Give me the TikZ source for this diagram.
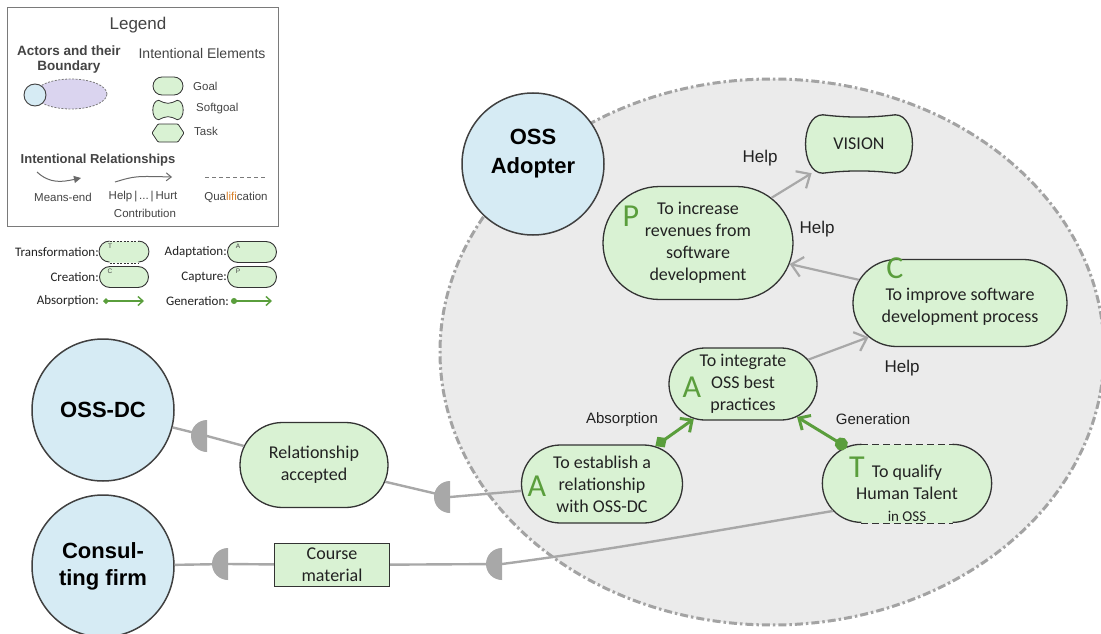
\documentclass[tikz,border=0pt]{standalone}
\usepackage{fontspec}
\setmainfont{Carlito}
\newfontfamily\arialf{Liberation Sans}
\usetikzlibrary{arrows.meta,shapes.misc,calc}
\pgfdeclarelayer{back}
\pgfdeclarelayer{shapes}
\pgfsetlayers{back,shapes,main}
\definecolor{actorfill}{HTML}{D6EBF4}
\definecolor{actorline}{HTML}{404040}
\definecolor{goalfill}{HTML}{D9F2D3}
\definecolor{bndfill}{HTML}{EBEBEB}
\definecolor{bndline}{HTML}{A3A3A3}
\definecolor{linkgray}{HTML}{A8A8A8}
\definecolor{igreen}{HTML}{5A9E3C}
\definecolor{edge}{HTML}{333333}
\definecolor{txt}{HTML}{222222}
\definecolor{legtext}{HTML}{444444}
\definecolor{legline}{HTML}{7A7A7A}
\definecolor{lav}{HTML}{DAD4EF}
\definecolor{qorange}{HTML}{D9822B}
\newcommand\fs[2]{\fontsize{#1}{#2}\selectfont}
% softgoal outline: node, corner inset, dip, bulge
\newcommand\sgpath[4]{($(#1.north west)+(#2,0)$) .. controls ($(#1.north west)+(3*#2,#3)$) and ($(#1.north east)+(-3*#2,#3)$) .. ($(#1.north east)+(-#2,0)$)
 .. controls ($(#1.north east)+(#4,0)$) and ($(#1.south east)+(#4,0)$) .. ($(#1.south east)+(-#2,0)$)
 .. controls ($(#1.south east)+(-3*#2,-#3)$) and ($(#1.south west)+(3*#2,-#3)$) .. ($(#1.south west)+(#2,0)$)
 .. controls ($(#1.south west)+(-#4,0)$) and ($(#1.north west)+(-#4,0)$) .. cycle}
\newcommand\Dsym[1]{\fill[linkgray] ($(#1)+(0,-16)$) arc[start angle=90,end angle=270,radius=16pt] -- cycle;}
\begin{document}
\begin{tikzpicture}[x=1pt,y=-1pt,
 actor/.style={circle,draw=actorline,line width=1.5pt,fill=actorfill,minimum size=142pt,inner sep=0pt,align=center,font=\arialf\bfseries\fs{22}{27}},
 goal/.style={rounded rectangle,draw=edge,line width=1.3pt,fill=goalfill,inner sep=0pt,align=center,font=\fs{18}{22},text=txt},
 res/.style={rectangle,draw=edge,line width=1.3pt,fill=goalfill,inner sep=0pt,align=center,font=\fs{18}{22},text=txt},
 letter/.style={inner sep=0pt,text=igreen,font=\fs{32}{32}},
 lbl/.style={inner sep=0pt,text=txt,font=\arialf\fs{17}{20}},
 slbl/.style={inner sep=0pt,text=txt,font=\arialf\fs{15}{18}},
 dep/.style={draw=linkgray,line width=2.4pt},
 help/.style={draw=linkgray,line width=2.2pt,-{Straight Barb[length=11pt,width=20pt]}},
 absorb/.style={draw=igreen,line width=3pt,{Diamond[length=14pt,width=13pt]}-{Straight Barb[length=9pt,width=17pt]}},
 gener/.style={draw=igreen,line width=3pt,{Circle[length=13pt]}-{Straight Barb[length=9pt,width=17pt]}},
 legtxt/.style={inner sep=0pt,text=legtext,font=\arialf\fs{11.5}{13}},
 leghead/.style={inner sep=0pt,text=legtext,font=\arialf\bfseries\fs{13.5}{15},align=center},
 lgoal/.style={rounded rectangle,draw=edge,line width=0.8pt,fill=goalfill,minimum width=30pt,minimum height=18pt,inner sep=0pt},
 l2txt/.style={inner sep=0pt,text=txt,font=\fs{13}{15},anchor=east},
 l2box/.style={rounded rectangle,draw=edge,line width=0.9pt,fill=goalfill,minimum width=49pt,minimum height=21pt,inner sep=0pt},
 l2let/.style={inner sep=0pt,text=legtext,font=\arialf\fs{6.5}{7}},
]
\useasboundingbox (0,0) rectangle (1101,634);
\begin{pgfonlayer}{back}
\fill[white] (0,0) rectangle (1101,634);
\draw[fill=bndfill,draw=bndline,line width=3pt,dash pattern=on 8pt off 3pt on 2.5pt off 3pt] (772,352) ellipse [x radius=332pt,y radius=273pt];
\end{pgfonlayer}

% ---------------- Legend ----------------
\draw[legline,line width=1pt] (7,8) rectangle (278,226);
\node[inner sep=0pt,text=legtext,font=\arialf\fs{17}{19}] (legtitle) at (138,25) {Legend};
\node[leghead] (legact) at (69,60) {Actors and their\\Boundary};
\node[inner sep=0pt,text=legtext,font=\arialf\fs{14}{16}] (legie) at (202,53) {Intentional Elements};
\draw[fill=lav,draw=legline,line width=0.8pt,dash pattern=on 2pt off 1.5pt] (71,94) ellipse [x radius=36pt,y radius=15pt];
\node[circle,draw=actorline,line width=0.9pt,fill=actorfill,minimum size=22pt,inner sep=0pt] (legactor) at (35,95) {};
\node[lgoal] (lgg) at (168,86) {};
\node[legtxt,anchor=west] (lggt) at (193,86) {Goal};
\node[minimum width=26pt,minimum height=19pt,inner sep=0pt] (lgs) at (168,110) {};
\begin{pgfonlayer}{shapes}
\draw[draw=edge,line width=0.8pt,fill=goalfill] \sgpath{lgs}{4}{4}{4};
\end{pgfonlayer}
\node[legtxt,anchor=west] (lgst) at (196,109) {Softgoal};
\draw[draw=edge,line width=0.8pt,fill=goalfill,rounded corners=1pt] (152,133)--(158,124)--(178,124)--(184,133)--(178,142)--(158,142)--cycle;
\node[legtxt,anchor=west] (lgtt) at (194,131) {Task};
\node[inner sep=0pt,text=legtext,font=\arialf\bfseries\fs{13}{15}] (legrel) at (98,160) {Intentional Relationships};
\draw[draw=legtext!80,line width=1pt,-{Triangle[length=7pt,width=7pt]}] (37,172) .. controls (50,184) and (62,182) .. (81,178);
\draw[draw=legtext!80,line width=1pt,-{Straight Barb[length=5pt,width=8pt]}] (115,182) .. controls (135,176) .. (172,177);
\draw[draw=legline,line width=0.9pt,dash pattern=on 4pt off 3pt] (205,177) -- (267,177);
\node[legtxt] (lme) at (63,197) {Means-end};
\node[legtxt] (lhh) at (143,197) {Help\,|\,...\,|\,Hurt};
\node[legtxt] (lco) at (145,213) {Contribution};
\node[legtxt] (lqu) at (236,197) {Qua\textcolor{qorange}{lifi}cation};

% -------- second legend --------
\node[l2txt] (tTr) at (99,252) {Transformation:};
\node[l2box,draw=none] (bTr) at (124,252) {};
\draw[draw=edge,line width=0.9pt] ($(bTr.west |- bTr.north)+(10.5,0)$) arc[start angle=90,end angle=270,radius=10.5pt];
\draw[draw=edge,line width=0.9pt] ($(bTr.east |- bTr.north)+(-10.5,0)$) arc[start angle=90,end angle=-90,radius=10.5pt];
\draw[draw=edge,line width=0.9pt,dash pattern=on 2pt off 1.5pt] ($(bTr.west |- bTr.north)+(10.5,0)$) -- ($(bTr.east |- bTr.north)+(-10.5,0)$);
\draw[draw=edge,line width=0.9pt,dash pattern=on 2pt off 1.5pt] ($(bTr.west |- bTr.south)+(10.5,0)$) -- ($(bTr.east |- bTr.south)+(-10.5,0)$);
\node[l2let] (lT) at (110,246) {T};
\node[l2txt] (tAd) at (227,252) {Adaptation:};
\node[l2box] (bAd) at (252,252) {};
\node[l2let] (lA) at (238,246) {A};
\node[l2txt] (tCr) at (99,277) {Creation:};
\node[l2box] (bCr) at (124,277) {};
\node[l2let] (lC) at (110,271) {C};
\node[l2txt] (tCa) at (227,277) {Capture:};
\node[l2box] (bCa) at (252,277) {};
\node[l2let] (lPp) at (238,271) {P};
\node[l2txt] (tAb) at (99,301) {Absorption:};
\draw[draw=igreen,line width=1.4pt,{Diamond[length=6pt,width=6pt]}-{Straight Barb[length=5pt,width=9pt]}] (103,301) -- (144,301);
\node[l2txt] (tGe) at (229,301) {Generation:};
\draw[draw=igreen,line width=1.4pt,{Circle[length=6pt]}-{Straight Barb[length=5pt,width=9pt]}] (231,301) -- (272,301);

% ---------------- Actors ----------------
\node[actor,label={[font=\arialf\bfseries\fs{22}{29},align=center,text=black,yshift=10pt]center:OSS\\Adopter}] (adopter) at (533,164) {};
\node[actor] (dc) at (103,410) {OSS-DC};
\node[actor] (cons) at (103,566) {Consul-\\ting firm};

% ---------------- Elements ----------------
\node[minimum width=96pt,minimum height=58pt,inner sep=0pt,font=\fs{18}{22},text=txt] (vision) at (859,144) {VISION};
\begin{pgfonlayer}{shapes}
\draw[draw=edge,line width=1.3pt,fill=goalfill] \sgpath{vision}{12}{3}{11};
\end{pgfonlayer}
\node[goal,minimum width=190pt,minimum height=113pt] (inc) at (698,243) {To increase\\revenues from\\software\\development};
\node[goal,minimum width=214pt,minimum height=87pt,label={[inner sep=0pt,align=center,font=\fs{18}{22},text=txt,yshift=-4pt]center:To improve software\\development process}] (imp) at (960,303) {};
\node[goal,minimum width=148pt,minimum height=72pt] (integ) at (743,384) {To integrate\\OSS best\\practices};
\node[goal,minimum width=161pt,minimum height=78pt] (est) at (602,484) {To establish a\\relationship\\with OSS-DC};
\node[goal,draw=none,minimum width=168pt,minimum height=78pt,
  label={[inner sep=0pt,align=center,font=\fs{18}{22},text=txt,yshift=-9pt]center:To qualify\\Human Talent\\{\fs{15}{18}in OSS}}] (qual) at (907,484) {};
\draw[draw=edge,line width=1.3pt] ($(qual.west |- qual.north)+(39,0)$) arc[start angle=90,end angle=270,radius=39pt];
\draw[draw=edge,line width=1.3pt] ($(qual.east |- qual.north)+(-39,0)$) arc[start angle=90,end angle=-90,radius=39pt];
\draw[draw=edge,line width=1.3pt,dash pattern=on 7pt off 4pt] ($(qual.west |- qual.north)+(39,0)$) -- ($(qual.east |- qual.north)+(-39,0)$);
\draw[draw=edge,line width=1.3pt,dash pattern=on 7pt off 4pt] ($(qual.west |- qual.south)+(39,0)$) -- ($(qual.east |- qual.south)+(-39,0)$);
\node[goal,minimum width=148pt,minimum height=85pt] (rel) at (314,465) {Relationship\\accepted};
\node[res,minimum width=115pt,minimum height=43pt] (course) at (332,565) {Course\\material};

% letters
\node[letter] (lP) at (631,216) {P};
\node[letter] (lC2) at (895,268) {C};
\node[letter] (lA1) at (692,387) {A};
\node[letter] (lA2) at (537,486) {A};
\node[letter] (lT2) at (857,467) {T};

% ---------------- Links ----------------
\coordinate (d1) at (207,436);
\coordinate (d2) at (228,564);
\coordinate (d3) at (450,497);
\coordinate (d4) at (502,564);
\draw[dep] (dc) -- (d1) -- (rel);
\draw[dep] (rel) -- (d3) -- (est);
\draw[dep] (cons) -- (d2) -- (course);
\draw[dep] (course) -- (d4) .. controls (610,550) and (720,530) .. (qual.200);
\Dsym{d1}
\Dsym{d2}
\Dsym{d3}
\Dsym{d4}

\draw[help] (inc) -- (vision);
\draw[help] (imp) -- (inc);
\draw[help] (integ) -- (imp);
\draw[absorb] (est) -- (integ);
\draw[gener] (qual) -- (integ);

\node[lbl] (h1) at (760,158) {Help};
\node[lbl] (h2) at (817,229) {Help};
\node[lbl] (h3) at (902,368) {Help};
\node[slbl] (labs) at (622,420) {Absorption};
\node[slbl] (lgen) at (873,419) {Generation};
\end{tikzpicture}
\end{document}
